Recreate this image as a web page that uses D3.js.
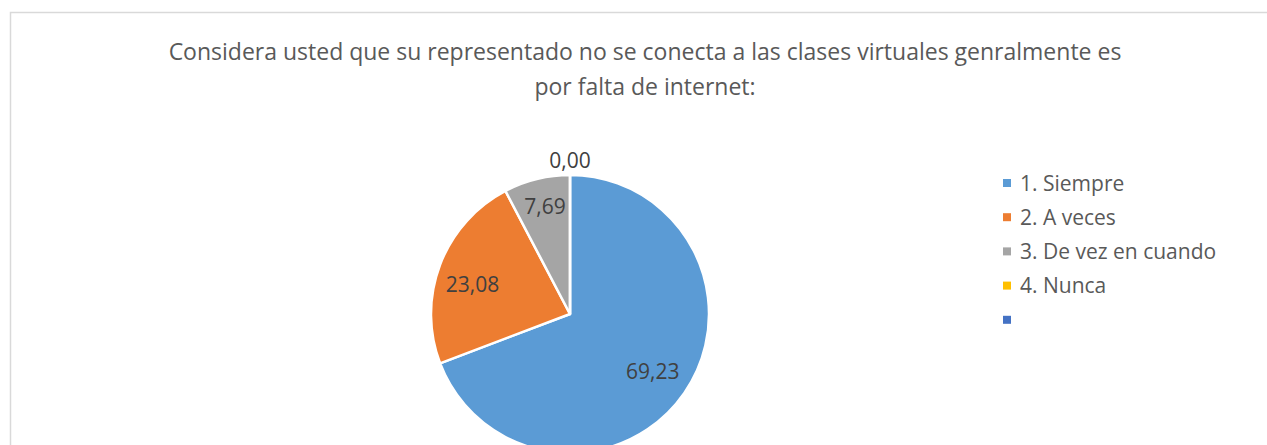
<!DOCTYPE html>
<html>
<head>
<meta charset="utf-8">
<script src="https://cdn.jsdelivr.net/npm/d3@7"></script>
<style>
  body { margin: 0; background: #fff; }
  svg { display: block; font-family: "Open Sans", "Noto Sans", sans-serif; }
</style>
</head>
<body>
<script>
var categories = ['1. Siempre', '2. A veces', '3. De vez en cuando', '4. Nunca', ''];
var values = [69.23, 23.08, 7.69, 0.00, 0];
var labels = ['69,23', '23,08', '7,69', '0,00'];
var colors = ['#5B9BD5', '#ED7D31', '#A5A5A5', '#FFC000', '#4472C4'];
var titleLines = ['Considera usted que su representado no se conecta a las clases virtuales genralmente es',
                  'por falta de internet:'];

var width = 1267, height = 445;
var cx = 570, cy = 314, radius = 139;

var svg = d3.select('body').append('svg')
    .attr('width', width)
    .attr('height', height);

// chart frame
svg.append('rect')
    .attr('x', 10.5).attr('y', 12.5)
    .attr('width', 1270).attr('height', 460)
    .attr('fill', '#fff')
    .attr('stroke', '#d9d9d9')
    .attr('stroke-width', 1.5);

svg.selectAll('text.title')
    .data(titleLines)
    .enter()
    .append('text')
    .attr('class', 'title')
    .attr('x', 645)
    .attr('y', function(d, i) { return 60 + i * 35; })
    .attr('text-anchor', 'middle')
    .attr('font-size', 23)
    .attr('fill', '#595959')
    .text(function(d) { return d; });

var pie = d3.pie().sort(null).value(function(d) { return d; });
var arc = d3.arc().innerRadius(0).outerRadius(radius);
var arcs = pie(values.slice(0, 4));

var g = svg.append('g').attr('transform', 'translate(' + cx + ',' + cy + ')');

g.selectAll('path')
    .data(arcs)
    .enter()
    .append('path')
    .attr('d', arc)
    .attr('fill', function(d, i) { return colors[i]; })
    .attr('stroke', '#fff')
    .attr('stroke-width', 2.5)
    .attr('stroke-linejoin', 'round');

// data labels (small nudges like the Excel best-fit placement)
var nudge = [[-3, -2], [0, 8], [0, -6], [0, 0]];
var labelArc = d3.arc().innerRadius(radius * 0.75).outerRadius(radius * 0.75);
g.selectAll('text.lbl')
    .data(arcs)
    .enter()
    .append('text')
    .attr('class', 'lbl')
    .attr('transform', function(d, i) {
        var p;
        if (d.value === 0) {
            p = [0, -radius - 14];
        } else {
            p = labelArc.centroid(d);
            p = [p[0] + nudge[i][0], p[1] + nudge[i][1]];
        }
        return 'translate(' + p[0] + ',' + p[1] + ')';
    })
    .attr('text-anchor', 'middle')
    .attr('dy', '0.35em')
    .attr('font-size', 21)
    .attr('fill', '#404040')
    .text(function(d, i) { return labels[i]; });

// legend
var legend = svg.append('g').attr('transform', 'translate(1003,183)');
var rows = legend.selectAll('g')
    .data(categories)
    .enter()
    .append('g')
    .attr('transform', function(d, i) { return 'translate(0,' + (i * 34.2) + ')'; });

rows.append('rect')
    .attr('x', 0).attr('y', -4)
    .attr('width', 8).attr('height', 8)
    .attr('fill', function(d, i) { return colors[i]; });

rows.append('text')
    .attr('x', 17)
    .attr('dy', '0.36em')
    .attr('font-size', 21)
    .attr('fill', '#595959')
    .text(function(d) { return d; });
</script>
</body>
</html>
